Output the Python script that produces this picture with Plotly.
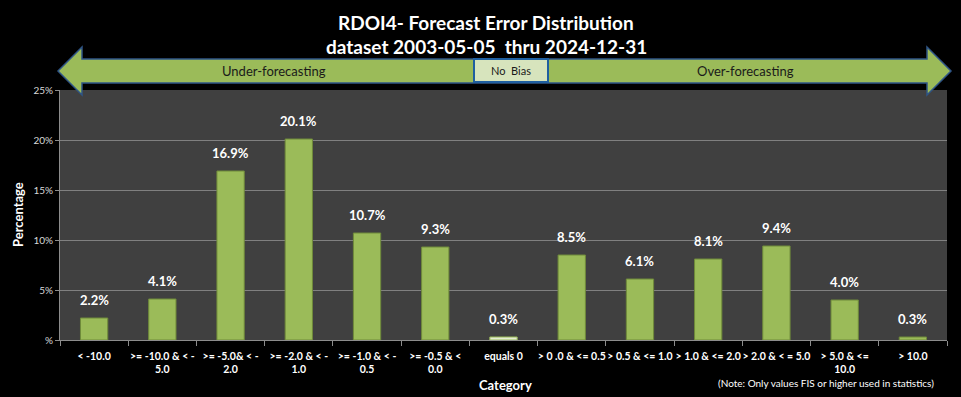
import plotly.graph_objects as go

categories = ["< -10.0", ">= -10.0 & < -<br>5.0", ">= -5.0& < -<br>2.0", ">= -2.0 & < -<br>1.0",
              ">= -1.0 & < -<br>0.5", ">= -0.5 & <<br>0.0", "equals 0", "> 0 .0 & <= 0.5",
              "> 0.5 & <= 1.0", "> 1.0 & <= 2.0", "> 2.0 & < = 5.0", "> 5.0 & <=<br>10.0", "> 10.0"]
percent = [2.2, 4.1, 16.9, 20.1, 10.7, 9.3, 0.3, 8.5, 6.1, 8.1, 9.4, 4.0, 0.3]
y_tick_vals = [0, 5, 10, 15, 20, 25]
y_tick_text = ["%", "5%", "10%", "15%", "20%", "25%"]

W, H = 961, 397
L, R, T, B = 60, 947, 90, 340
FONT = "Lato, Carlito, Liberation Sans, sans-serif"

def px(x):
    return (x - L) / (R - L)

def py(y):
    return (B - y) / (B - T)

colors = ["#e4ecd2" if c == "equals 0" else "#9bbb59" for c in categories]
lines = ["#9bbb59" if c == "equals 0" else "#6f8a3a" for c in categories]

fig = go.Figure(go.Bar(
    x=categories, y=percent,
    marker=dict(color=colors, line=dict(color=lines, width=1)),
))

annotations = []
for c, v in zip(categories, percent):
    annotations.append(dict(x=c, y=v, xref="x", yref="y", text=f"{v:.1f}%", showarrow=False,
                            xanchor="center", yanchor="bottom", yshift=8,
                            font=dict(family=FONT, size=13, color="white", weight="bold")))

# arrow shape (decorative)
pts = [(58, 71), (82, 47), (82, 59), (927, 59), (927, 47), (951, 71), (927, 95), (927, 83), (82, 83), (82, 95)]
path = "M " + " L ".join(f"{px(x):.5f},{py(y):.5f}" for x, y in pts) + " Z"
shapes = [
    dict(type="path", xref="paper", yref="paper", path=path, fillcolor="#9bbb59",
         line=dict(color="#2f5586", width=1.5), layer="above"),
    dict(type="rect", xref="paper", yref="paper", x0=px(474), x1=px(548), y0=py(82), y1=py(59),
         fillcolor="#d7e4bd", line=dict(color="#1f5fa0", width=2), layer="above"),
]

def label(x, y, text, size, color="white", bold=False, angle=0, xanchor="center"):
    return dict(x=px(x), y=py(y), xref="paper", yref="paper", text=text, showarrow=False,
                xanchor=xanchor, yanchor="middle", textangle=angle,
                font=dict(family=FONT, size=size, color=color, weight="bold" if bold else "normal"))

annotations += [
    label(486, 22, "RDOI4- Forecast Error Distribution", 19, bold=True),
    label(486, 46, "dataset 2003-05-05  thru 2024-12-31", 19, bold=True),
    label(274, 71, "Under-forecasting", 13, color="#1a1a1a"),
    label(511, 71, "No  Bias", 11, color="#1a1a1a"),
    label(745, 71, "Over-forecasting", 13, color="#1a1a1a"),
    label(505, 385, "Category", 13, bold=True),
    label(18, 215, "Percentage", 13, bold=True, angle=-90),
    label(936, 383, "(Note: Only values FIS or higher used in statistics)", 10, xanchor="right"),
]

fig.update_layout(
    width=W, height=H,
    margin=dict(l=L, r=W - R, t=T, b=H - B, autoexpand=False),
    paper_bgcolor="black", plot_bgcolor="#404040",
    showlegend=False,
    xaxis=dict(type="category", tickson="boundaries", ticks="outside", ticklen=5, tickcolor="#8c8c8c",
               showline=True, linecolor="#8c8c8c", showgrid=False, tickangle=0, automargin=False,
               ticklabelstandoff=6,
               tickfont=dict(family=FONT, size=10.5, color="white", weight="bold")),
    yaxis=dict(range=[0, 25], tickvals=y_tick_vals, ticktext=y_tick_text, ticks="outside", ticklen=4,
               tickcolor="#8c8c8c", showline=True, linecolor="#8c8c8c", gridcolor="#808080", gridwidth=1,
               zeroline=False, automargin=False, tickfont=dict(family=FONT, size=10, color="#d9d9d9")),
    bargap=0.6,
    shapes=shapes, annotations=annotations,
)

fig.write_html("out.html", config={"displayModeBar": False},
               post_script="document.body.style.margin='0';document.body.style.background='black';")
